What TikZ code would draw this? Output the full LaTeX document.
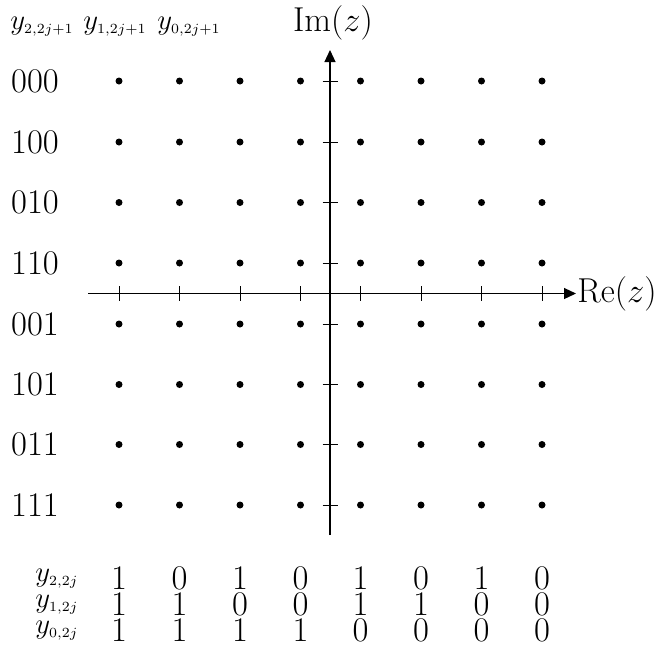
\documentclass[tikz,border=0pt]{standalone}
\usetikzlibrary{arrows.meta}
\DeclareMathSizes{14}{14}{7}{5}
\begin{document}
\begin{tikzpicture}[x=0.5pt,y=-0.5pt,
  every node/.style={font=\fontsize{16.5}{19}\selectfont, inner sep=0pt},
  lab/.style={font=\fontsize{14}{16}\selectfont, anchor=base west},
  dot/.style={circle,fill=black,minimum size=3.5pt,inner sep=0pt},
  axis/.style={line width=0.6pt,-{Triangle[length=6pt,width=5.5pt]}},
  tick/.style={line width=0.5pt}]
\useasboundingbox (0,0) rectangle (658,655);
% axes
\coordinate (xs) at (88,293.5);
\coordinate (xe) at (576,293.5);
\coordinate (ys) at (330,535);
\coordinate (ye) at (330,50);
\draw[axis] (xs) -- (xe);
\draw[axis] (ys) -- (ye);
\node[anchor=east] (re) at (657,293.5) {$\mathrm{Re}(z)$};
\node (im) at (333,23) {$\mathrm{Im}(z)$};
% dots and ticks
\foreach \i/\xx in {1/119,2/179.5,3/240,4/300.5,5/360.5,6/421,7/481.5,8/542}{
  \draw[tick] (\xx,286) -- (\xx,301);
  \foreach \j/\yy in {1/81,2/142,3/202.5,4/263,5/324,6/384.5,7/444.5,8/505}{
    \node[dot] (d\i\j) at (\xx,\yy) {};
  }
}
\foreach \yy in {81,142,202.5,263,324,384.5,444.5,505}{
  \draw[tick] (322.5,\yy) -- (337.5,\yy);
}
% left labels
\foreach \j/\yy/\t in {1/81/000,2/142/100,3/202.5/010,4/263/110,5/324/001,6/384.5/101,7/444.5/011,8/505/111}{
  \node (l\j) at (35,\yy) {$\t$};
}
% top labels
\node[lab] (t2) at (10,29) {$y_{2,2j+1}$};
\node[lab] (t1) at (83,29) {$y_{1,2j+1}$};
\node[lab] (t0) at (157,29) {$y_{0,2j+1}$};
% bottom table
\node[lab] (b2) at (35,581) {$y_{2,2j}$};
\node[lab] (b1) at (35,607) {$y_{1,2j}$};
\node[lab] (b0) at (35,633) {$y_{0,2j}$};
\foreach \i/\xx/\a/\b/\c in {1/119/1/1/1,2/179.5/0/1/1,3/240/1/0/1,4/300.5/0/0/1,5/360.5/1/1/0,6/421/0/1/0,7/481.5/1/0/0,8/542/0/0/0}{
  \node (r2\i) at (\xx,578) {$\a$};
  \node (r1\i) at (\xx,604) {$\b$};
  \node (r0\i) at (\xx,630) {$\c$};
}
\end{tikzpicture}
\end{document}
